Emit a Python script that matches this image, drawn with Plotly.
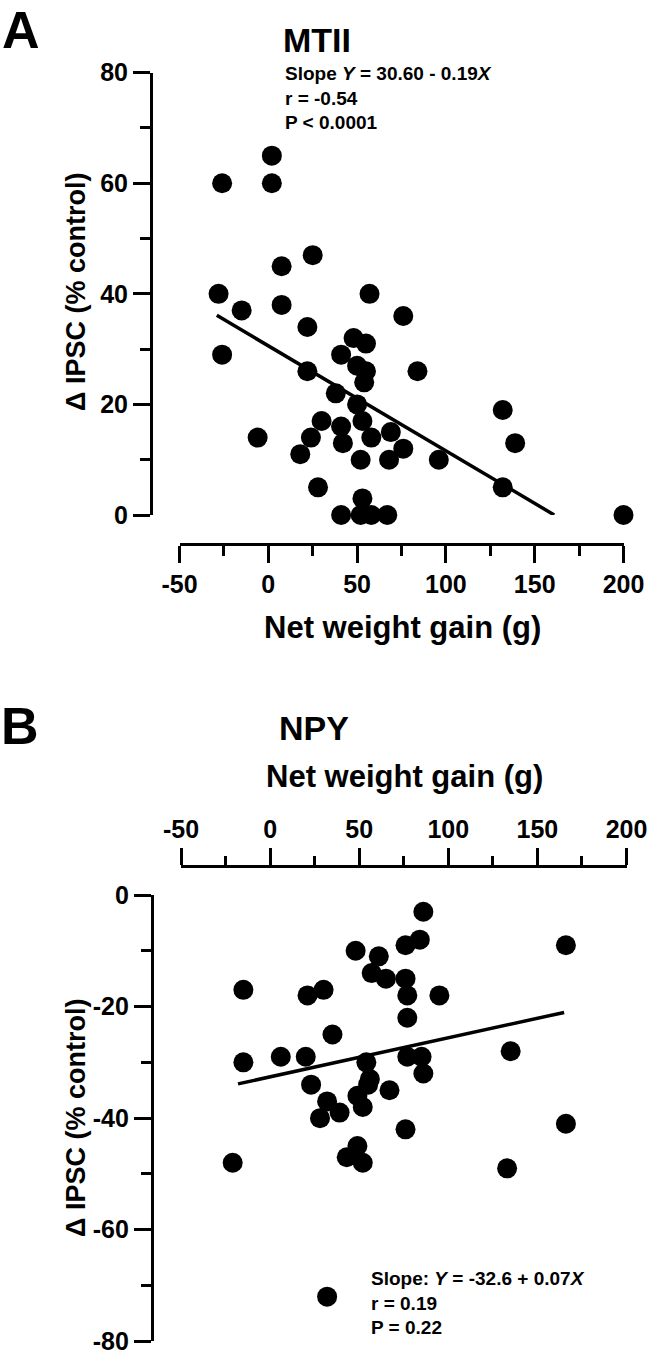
import plotly.graph_objects as go

# ---------------- Data ----------------
# Panel A: MTII
mtii_gain = [2, -26, 2, 25, 7.5, -28, -15, 7.5, 57, 76, 22, -26, 48, 55, 41, 50, 55, 54, 22, 38,
             50, 53, 30, 41, 58, 69, -6, 24, 42, 76, 18, 52, 68, 28, 53, 41, 52, 58, 67, 84,
             132, 139, 96, 132, 200]
mtii_ipsc = [65, 60, 60, 47, 45, 40, 37, 38, 40, 36, 34, 29, 32, 31, 29, 27, 26, 24, 26, 22,
             20, 17, 17, 16, 14, 15, 14, 14, 13, 12, 11, 10, 10, 5, 3, 0, 0, 0, 0, 26,
             19, 13, 10, 5, 0]
mtii_intercept = 30.60
mtii_slope = -0.19
mtii_fit_x = [-29, 161]

# Panel B: NPY
npy_gain = [86, 76, 84, 48, 61, 57, 65, 76, 77, 77, 95, 166, 135, 77, 85, 86, 67, -15, 21, 30,
            35, -15, 6, 20, 54, 23, 56, -21, 32, 28, 39, 49, 52, 49, 52, 43, 76, 133, 166, 32, 55]
npy_ipsc = [-3, -9, -8, -10, -11, -14, -15, -15, -18, -22, -18, -9, -28, -29, -29, -32, -35, -17, -18, -17,
            -25, -30, -29, -29, -30, -34, -33, -48, -37, -40, -39, -36, -38, -45, -48, -47, -42, -49, -41, -72, -34]
npy_intercept = -32.6
npy_slope = 0.07
npy_fit_x = [-18, 165]

x_ticks = [-50, 0, 50, 100, 150, 200]
x_ticklabels = ["-50", "0", "50", "100", "150", "200"]
ya_ticks = [0, 20, 40, 60, 80]
ya_ticklabels = ["0", "20", "40", "60", "80"]
yb_ticks = [-80, -60, -40, -20, 0]
yb_ticklabels = ["-80", "-60", "-40", "-20", "0"]

# ---------------- Figure ----------------
W, H = 653, 1354
FONT = "Liberation Sans, Arial, sans-serif"


def px_x(p):
    return p / W


def px_y(p):
    return 1 - p / H


fig = go.Figure()

marker = dict(color="black", size=20, line=dict(width=0))

fig.add_trace(go.Scatter(x=mtii_gain, y=mtii_ipsc, mode="markers", marker=marker,
                         cliponaxis=False, xaxis="x", yaxis="y", showlegend=False))
fig.add_trace(go.Scatter(x=mtii_fit_x, y=[mtii_intercept + mtii_slope * v for v in mtii_fit_x],
                         mode="lines", line=dict(color="black", width=3.5),
                         cliponaxis=False, xaxis="x", yaxis="y", showlegend=False))

fig.add_trace(go.Scatter(x=npy_gain, y=npy_ipsc, mode="markers", marker=marker,
                         cliponaxis=False, xaxis="x2", yaxis="y2", showlegend=False))
fig.add_trace(go.Scatter(x=npy_fit_x, y=[npy_intercept + npy_slope * v for v in npy_fit_x],
                         mode="lines", line=dict(color="black", width=3.5),
                         cliponaxis=False, xaxis="x2", yaxis="y2", showlegend=False))

tickfont = dict(family=FONT, size=25, color="black", weight="bold")
common = dict(showline=True, linecolor="black", linewidth=2.5, ticks="outside", ticklen=17,
              tickwidth=2.5, tickcolor="black", showgrid=False, zeroline=False,
              tickfont=tickfont, fixedrange=True, automargin=False,
              ticklabeloverflow="allow")

fig.update_layout(
    template="none",
    width=W, height=H, autosize=False,
    margin=dict(l=0, r=0, t=0, b=0, pad=0),
    paper_bgcolor="white", plot_bgcolor="white",
    xaxis=dict(domain=[px_x(179.5), px_x(623.5)], range=[-50, 200], anchor="free",
               position=px_y(544), side="bottom", tickvals=x_ticks, ticktext=x_ticklabels,
               minor=dict(dtick=25, tick0=-50, ticks="outside", ticklen=10, tickwidth=2.5,
                          tickcolor="black"), **common),
    yaxis=dict(domain=[px_y(515), px_y(72.7)], range=[0, 80], anchor="free",
               position=px_x(150.7), tickvals=ya_ticks, ticktext=ya_ticklabels,
               minor=dict(dtick=10, tick0=0, ticks="outside", ticklen=10, tickwidth=2.5,
                          tickcolor="black"), **common),
    xaxis2=dict(domain=[px_x(181), px_x(626.5)], range=[-50, 200], anchor="free",
                position=px_y(866), side="top", tickvals=x_ticks, ticktext=x_ticklabels,
                minor=dict(dtick=25, tick0=-50, ticks="outside", ticklen=9, tickwidth=2.5,
                           tickcolor="black"), **common),
    yaxis2=dict(domain=[px_y(1341.3), px_y(895)], range=[-80, 0], anchor="free",
                position=px_x(151.7), tickvals=yb_ticks, ticktext=yb_ticklabels,
                minor=dict(dtick=10, tick0=0, ticks="outside", ticklen=10, tickwidth=2.5,
                           tickcolor="black"), **common),
)


def label(text, x, y, size, xanchor="center", yanchor="middle", angle=0, align="center"):
    fig.add_annotation(text=text, x=px_x(x), y=px_y(y), xref="paper", yref="paper",
                       showarrow=False, xanchor=xanchor, yanchor=yanchor, textangle=angle,
                       align=align,
                       font=dict(family=FONT, size=size, color="black", weight="bold"))


# Panel letters and titles
label("A", 21, 30, 52)
label("MTII", 317, 40, 34)
label("B", 20, 726, 52)
label("NPY", 314, 728, 34)

# Axis titles
label("Net weight gain (g)", 402, 627, 31)
label("Net weight gain (g)", 404, 777, 31)
label("Δ IPSC (% control)", 76, 292, 27, angle=-90)
label("Δ IPSC (% control)", 76, 1118, 27, angle=-90)

# Stats text
label("Slope <i>Y</i> = 30.60 - 0.19<i>X</i><br>r = -0.54<br>P < 0.0001", 283, 61, 19,
      xanchor="left", yanchor="top", align="left")
label("Slope: <i>Y</i> = -32.6 + 0.07<i>X</i><br>r = 0.19<br>P = 0.22", 369, 1266, 19,
      xanchor="left", yanchor="top", align="left")

fig.write_html(
    "out.html",
    config={"displayModeBar": False},
    post_script="document.body.style.margin='0';document.body.style.overflow='hidden';",
)
